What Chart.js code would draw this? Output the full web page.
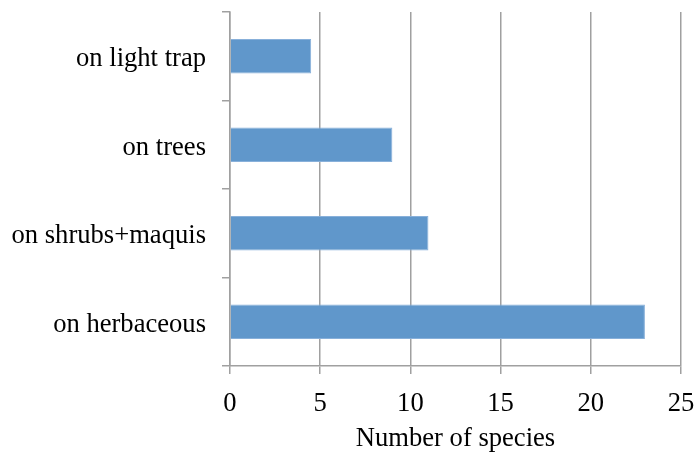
<!DOCTYPE html>
<html>
<head>
<meta charset="utf-8">
<script src="https://cdn.jsdelivr.net/npm/chart.js@4"></script>
<style>
  html, body { margin: 0; padding: 0; background: #fff; }
  #wrap { width: 696px; height: 455px; }
</style>
</head>
<body>
<div id="wrap"><canvas id="chart" width="696" height="455"></canvas></div>
<script>
// data
const categories = ["on light trap", "on trees", "on shrubs+maquis", "on herbaceous"];
const speciesCount = [4.5, 9, 11, 23];
const xTicks = [0, 5, 10, 15, 20, 25];
const xTitle = "Number of species";

const gridGray = "#a0a0a0";
const font = { family: "'Liberation Serif', 'Times New Roman', serif", size: 26.6 };

new Chart(document.getElementById("chart"), {
  type: "bar",
  data: {
    labels: categories,
    datasets: [{
      data: speciesCount,
      backgroundColor: "#6097cb",
      borderColor: "#88b0da",
      borderWidth: 1,
      categoryPercentage: 1,
      barPercentage: 0.39
    }]
  },
  options: {
    indexAxis: "y",
    responsive: false,
    animation: false,
    layout: { padding: { top: 12, right: 15, bottom: 0, left: 0 } },
    plugins: {
      legend: { display: false },
      tooltip: { enabled: false }
    },
    scales: {
      x: {
        min: xTicks[0],
        max: xTicks[xTicks.length - 1],
        afterBuildTicks: (scale) => {
          scale.ticks = xTicks.map(v => ({ value: v }));
        },
        afterFit: (scale) => {
          scale.height = 89;
          scale.paddingLeft = 0;
          scale.paddingRight = 0;
        },
        grid: {
          color: gridGray,
          lineWidth: 1.5,
          tickLength: 8
        },
        border: { color: gridGray, width: 1.5 },
        ticks: { color: "#000", font: font, padding: 14 },
        title: {
          display: true,
          text: xTitle,
          color: "#000",
          font: font,
          padding: { top: 4, bottom: 0 }
        }
      },
      y: {
        afterFit: (scale) => {
          scale.width = 230;
          scale.paddingTop = 0;
          scale.paddingBottom = 0;
        },
        grid: {
          drawOnChartArea: false,
          color: gridGray,
          lineWidth: 1.5,
          tickLength: 8,
          offset: true
        },
        border: { color: gridGray, width: 1.5 },
        ticks: { color: "#000", font: font, padding: 16, labelOffset: 3 }
      }
    }
  }
});
</script>
</body>
</html>
